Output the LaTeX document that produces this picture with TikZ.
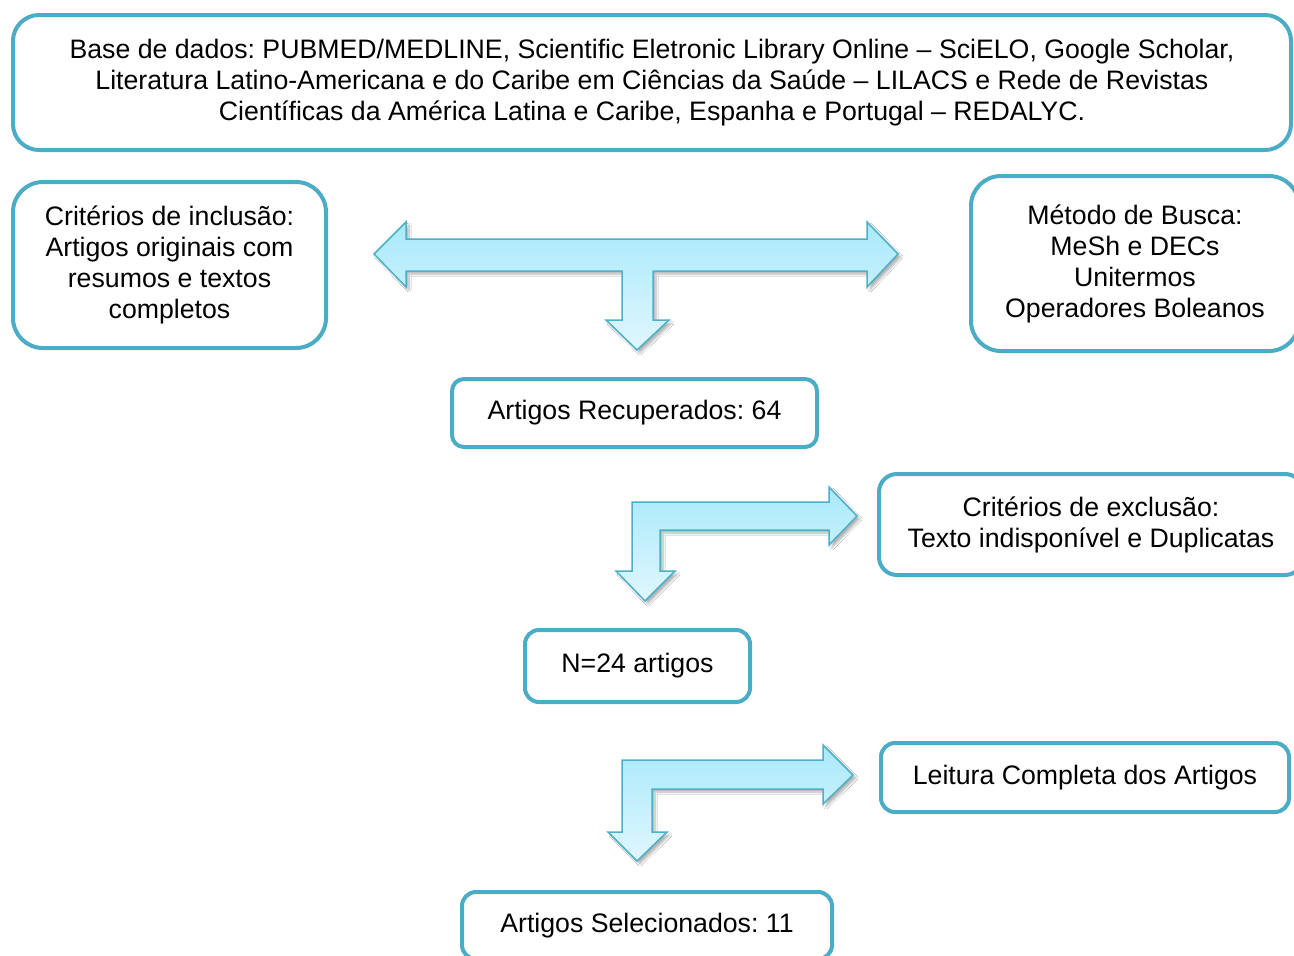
\documentclass[tikz,border=0pt]{standalone}
\usepackage{fontspec}
\setmainfont{Liberation Sans}
\usetikzlibrary{shadows.blur}
\definecolor{boxline}{HTML}{4BACC6}
\definecolor{arrtop}{HTML}{A9E9FB}
\definecolor{arrbot}{HTML}{E0F7FE}
\definecolor{arrline}{HTML}{4EAFC9}
\tikzset{
  flowbox/.style={draw=boxline, line width=4pt, fill=white, rounded corners=#1,
    align=center, inner sep=0pt, font=\fontsize{26.7}{31}\selectfont\frenchspacing},
  flowbox/.default=18pt,
  fatarrow/.style={draw=arrline, line width=1.5pt, line join=miter,
    top color=arrtop, bottom color=arrbot,
    blur shadow={shadow xshift=3pt, shadow yshift=-3pt, shadow blur steps=8, shadow opacity=30}}
}
\begin{document}
\begin{tikzpicture}[x=1pt,y=-1pt]
\useasboundingbox (0,0) rectangle (1294,956);
\clip (0,0) rectangle (1294,956);
\fill[white] (0,0) rectangle (1294,956);

% arrows
\path[fatarrow] (374,254) -- (406,222) -- (406,239) -- (867,239) -- (867,222) -- (898,254)
  -- (867,287) -- (867,271) -- (653,271) -- (653,320) -- (669,320) -- (637,350)
  -- (606,320) -- (622,320) -- (622,271) -- (406,271) -- (406,287) -- cycle;
\path[fatarrow] (632,502) -- (829,502) -- (829,487) -- (857,516) -- (829,545) -- (829,530)
  -- (660,530) -- (660,571) -- (675,571) -- (645,601) -- (616,571) -- (632,571) -- cycle;
\path[fatarrow] (622,760) -- (823,760) -- (823,745) -- (853,775) -- (823,804) -- (823,789)
  -- (652,789) -- (652,832) -- (667,832) -- (637,861) -- (608,832) -- (622,832) -- cycle;

% boxes
\node[flowbox=26pt, minimum width=1278pt, minimum height=135pt] (base) at (652,82.5)
  {Base de dados: PUBMED/MEDLINE, Scientific Eletronic Library Online – SciELO, Google Scholar,\\
   Literatura Latino-Americana e do Caribe em Ciências da Saúde – LILACS e Rede de Revistas\\
   Científicas da América Latina e Caribe, Espanha e Portugal – REDALYC.};
\node[flowbox=30pt, minimum width=313pt, minimum height=166pt] (incl) at (169.5,265)
  {Critérios de inclusão:\\Artigos originais com\\resumos e textos\\completos};
\node[flowbox=30pt, minimum width=328pt, minimum height=175pt] (busca) at (1135,263.5)
  {Método de Busca:\\MeSh e DECs\\Unitermos\\Operadores Boleanos};
\node[flowbox=12pt, minimum width=365pt, minimum height=68pt] (recup) at (634.5,413)
  {Artigos Recuperados: 64};
\node[flowbox=18pt, minimum width=424pt, minimum height=101pt] (excl) at (1091,524.5)
  {Critérios de exclusão:\\Texto indisponível e Duplicatas};
\node[flowbox=14pt, minimum width=225pt, minimum height=72pt] (n24) at (637.5,666)
  {N=24 artigos};
\node[flowbox=14pt, minimum width=408pt, minimum height=69pt] (leit) at (1085,777.5)
  {Leitura Completa dos Artigos};
\node[flowbox=14pt, minimum width=370pt, minimum height=67pt] (sel) at (647,925.5)
  {Artigos Selecionados: 11};
\end{tikzpicture}
\end{document}
